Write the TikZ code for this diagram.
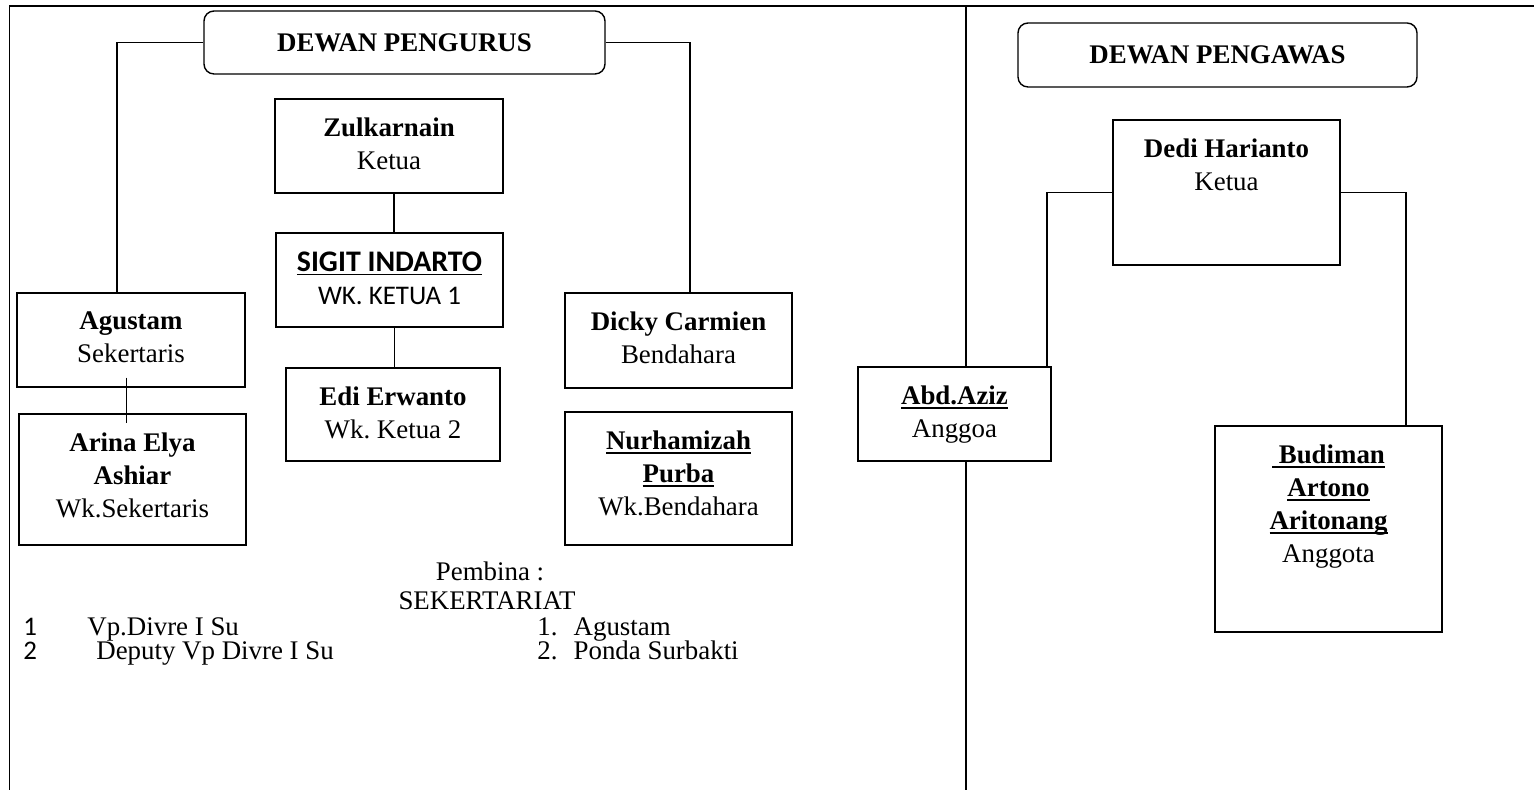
\documentclass[tikz,border=0pt]{standalone}
\usepackage{fontspec}
\setmainfont{Liberation Serif}
\newfontfamily\calibri{Carlito}

\newcommand{\boxfont}{\fontsize{15.3}{18.8}\selectfont}
\newsavebox\garisbox
\newcommand{\garis}[1]{\sbox\garisbox{#1}\rlap{\rule[-2.4pt]{\wd\garisbox}{0.9pt}}\usebox\garisbox}

\tikzset{
	frame/.style={line width=1.1pt},
	divider/.style={line width=1.6pt},
	box/.style={draw, fill=white, line width=0.8pt, inner sep=0pt},
	head/.style={box, rounded corners=0.2cm, font=\boxfont\bfseries},
	toptext/.style={label={[anchor=north, yshift=-0.38cm, inner sep=0pt, align=center, font=\boxfont]north:{#1}}},
	link/.style={line width=0.8pt},
	teks/.style={font=\boxfont, inner sep=0pt},
}

\begin{document}
\begin{tikzpicture}
	\useasboundingbox (0,0) rectangle (30.68,15.8);

	% bingkai
	\draw[frame] (0.19,0) -- (0.19,15.68) -- (30.68,15.68);
	\draw[divider] (19.32,15.68) -- (19.32,0);

	% dewan pengurus
	\node[head, minimum width=8.02cm, minimum height=1.26cm] (pengurus) at (8.09,14.95) {DEWAN PENGURUS};

	\node[box, minimum width=4.56cm, minimum height=1.88cm, toptext={\textbf{Zulkarnain}\\Ketua}] (ketua) at (7.78,12.88) {};
	\node[box, minimum width=4.54cm, minimum height=1.88cm, toptext={{\calibri\fontsize{17}{19}\selectfont\bfseries\garis{SIGIT INDARTO}}\\{\calibri WK. KETUA 1}}] (wakil1) at (7.79,10.2) {};
	\node[box, minimum width=4.28cm, minimum height=1.86cm, toptext={\textbf{Edi Erwanto}\\Wk.\ Ketua 2}] (wakil2) at (7.86,7.51) {};

	\node[box, minimum width=4.56cm, minimum height=1.88cm, toptext={\textbf{Agustam}\\Sekertaris}] (sekretaris) at (2.62,9.0) {};
	\node[box, minimum width=4.54cm, minimum height=2.62cm, toptext={\textbf{Arina Elya}\\\textbf{Ashiar}\\Wk.Sekertaris}] (wksekretaris) at (2.65,6.21) {};

	\node[box, minimum width=4.54cm, minimum height=1.9cm, toptext={\textbf{Dicky Carmien}\\Bendahara}] (bendahara) at (13.57,8.99) {};
	\node[box, minimum width=4.54cm, minimum height=2.66cm, toptext={\textbf{\garis{Nurhamizah}}\\\textbf{\garis{Purba}}\\Wk.Bendahara}] (wkbendahara) at (13.57,6.23) {};

	\draw[link] (pengurus.west) -| ([xshift=-0.28cm]sekretaris.north);
	\draw[link] (pengurus.east) -| ([xshift=0.23cm]bendahara.north);
	\draw[link] ([xshift=0.1cm]ketua.south) -- ([xshift=0.1cm]ketua.south |- wakil1.north);
	\draw[link] ([xshift=0.1cm]wakil1.south) -- ([xshift=0.1cm]wakil1.south |- wakil2.north);
	\draw[link] ([shift={(-0.09,0.2)}]sekretaris.south) -- ([shift={(-0.12,-0.2)}]wksekretaris.north);

	% pembina dan sekretariat
	\node[teks, anchor=base] (pembina) at (9.8,4.18) {Pembina :};
	\node[teks, anchor=base] (sekretariat) at (9.74,3.6) {SEKERTARIAT};
	\node[teks, anchor=base west] (no1) at (0.46,3.08) {\calibri 1};
	\node[teks, anchor=base west] (no2) at (0.46,2.6) {\calibri 2};
	\node[teks, anchor=base west] (vp) at (1.74,3.08) {Vp.Divre I Su};
	\node[teks, anchor=base west] (deputy) at (1.92,2.6) {Deputy Vp Divre I Su};
	\node[teks, anchor=base west] (sek1) at (10.74,3.08) {1.\hspace{0.6em}Agustam};
	\node[teks, anchor=base west] (sek2) at (10.74,2.6) {2.\hspace{0.6em}Ponda Surbakti};

	% dewan pengawas
	\node[head, minimum width=7.98cm, minimum height=1.28cm] (pengawas) at (24.35,14.7) {DEWAN PENGAWAS};

	\node[box, minimum width=4.54cm, minimum height=2.9cm, toptext={\textbf{Dedi Harianto}\\Ketua}] (ketuapengawas) at (24.53,11.95) {};
	\node[box, minimum width=3.86cm, minimum height=1.88cm, toptext={\textbf{\garis{Abd.Aziz}}\\Anggoa}] (anggota1) at (19.09,7.52) {};
	\node[box, minimum width=4.54cm, minimum height=4.12cm, toptext={\textbf{\garis{\ Budiman}}\\\textbf{\garis{Artono}}\\\textbf{\garis{Aritonang}}\\Anggota}] (anggota2) at (26.57,5.22) {};

	\draw[link] (ketuapengawas.west) -| ([xshift=1.85cm]anggota1.north);
	\draw[link] (ketuapengawas.east) -| ([xshift=1.55cm]anggota2.north);

\end{tikzpicture}
\end{document}
